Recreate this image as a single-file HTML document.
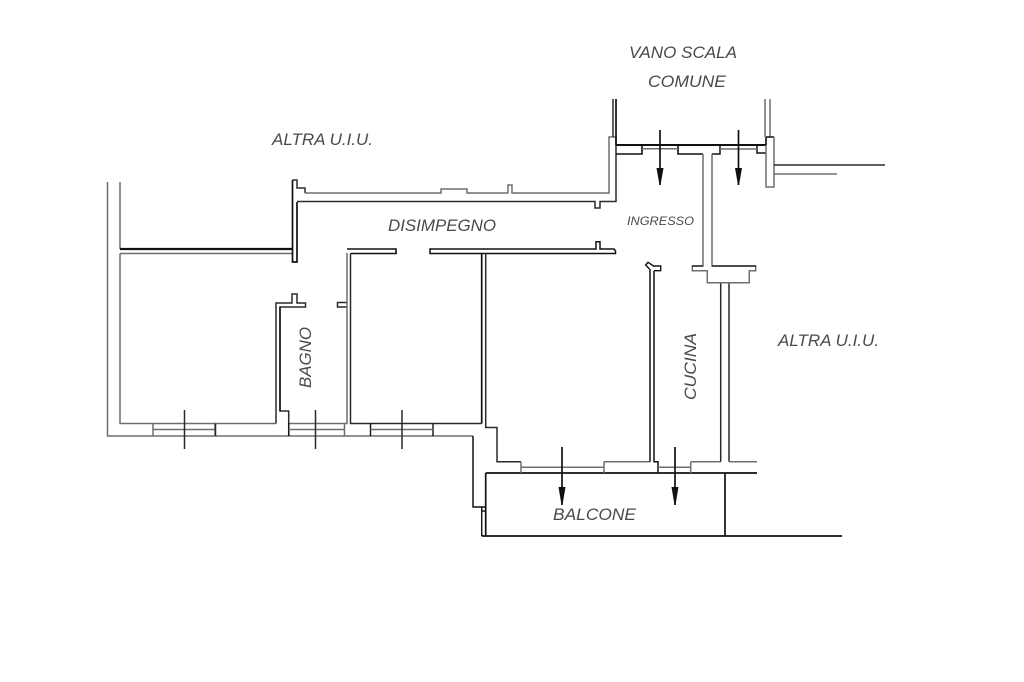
<!DOCTYPE html>
<html><head><meta charset="utf-8"><style>
html,body{margin:0;padding:0;background:#fff}
svg{display:block}
text{font-family:"Liberation Sans",sans-serif;font-style:italic;fill:#4a4a4a;font-size:17px}
.k{fill:none;stroke:#111;stroke-width:1.7}
.d{fill:none;stroke:#2a2a2a;stroke-width:1.5}
.g{fill:none;stroke:#6e6e6e;stroke-width:1.5}
</style></head><body>
<svg width="1024" height="682" viewBox="0 0 1024 682" xmlns="http://www.w3.org/2000/svg">
<rect width="1024" height="682" fill="#fff"/>

<!-- left block -->
<path class="g" d="M107.500 182V436H473"/>
<path class="g" d="M120 182V249"/>
<path class="k" d="M120 249H292.500" style="stroke-width:2.200"/>
<path class="g" d="M120 253.500H292.500"/>
<path class="g" d="M120 253.500V423.500H276"/>
<path class="k" d="M292.500 180V262H297V202"/>
<path class="d" d="M292.500 180H297V188H305V193"/>
<path class="g" d="M305 193H441V189H467V193H508V185H512V193H609V137H616"/>
<path class="d" d="M297 201.500H595V208H600V201.500H616V137"/>

<!-- bagno -->
<path class="d" d="M276 423.500V303H292V294H297V303H305.500V307H280V411H288.700V436"/>
<path class="k" d="M280 307V411" style="stroke-width:1.500"/>
<path class="d" d="M347 307H337.500V302.500H347"/>
<path class="g" d="M347 253V423.500H288.700"/>
<path class="d" d="M350.500 253.500V423.500H481.700"/>
<path class="k" d="M347 249H396V253.500H350.500" style="stroke-width:1.600"/>
<path class="k" d="M430 249H596V241.700H600V249H614L615.500 251V253.500H430Z" style="stroke-width:1.500"/>
<path class="k" d="M481.700 253.500V423.500"/>
<path class="d" d="M485.700 253.500V427.500H497V461.700H521"/>

<!-- left windows -->
<path class="g" d="M153 423.500V436M215 423.500V436M153 429.500H215"/>
<path class="d" d="M215.500 423.500V436"/>
<path class="k" d="M288.700 423V436" style="stroke-width:1.400"/>
<path class="g" d="M288.700 429.500H344.500M344.500 423.500V436"/>
<path class="k" d="M370.500 423.500V436M433 423.500V436" style="stroke-width:1.400"/>
<path class="g" d="M370.500 429.500H433"/>
<path class="d" d="M184.500 410V449M315.500 410V449M402 410V449"/>

<!-- lower-middle wall -->
<path class="k" d="M473 436V507H485.500" style="stroke-width:1.500"/>
<path class="k" d="M481.700 507V536M481.700 511H485.700" style="stroke-width:1.400"/>
<path class="k" d="M485.700 473V536"/>
<path class="k" d="M481.700 536H842"/>
<path class="k" d="M485.700 473H757"/>
<path class="k" d="M725 473V536"/>
<path class="g" d="M521 461.700V473M521 467.300H604M604 461.700V473M604 461.700H650"/>
<path class="k" d="M650 269V461.700" style="stroke-width:1.500"/>
<path class="k" d="M654 271V461.700H658V473" style="stroke-width:1.500"/>
<path class="g" d="M658 467.300H690.700M690.700 461.700V473M690.700 461.700H720.700"/>
<path class="d" d="M720.700 283V461.700"/>
<path class="d" d="M729 283V461.700"/>
<path class="g" d="M729 461.700H757"/>
<path class="k" d="M649.500 269L645.700 265L648 262.300L653.500 266H660.700V270.700H654" style="stroke-width:1.400"/>

<!-- stair section -->
<path class="d" d="M613 99V137"/>
<path class="k" d="M616 99V145"/>
<path class="k" d="M616 145H766" style="stroke-width:1.900"/>
<path class="k" d="M616 154H642V146M678 146V154H703" style="stroke-width:1.600"/>
<path class="g" d="M642 148.800H678"/>
<path class="g" d="M765 99V137M770 99V137"/>
<path class="k" d="M712 154H720V146M757 146V153H766" style="stroke-width:1.500"/>
<path class="g" d="M720 149H757"/>
<path class="k" d="M766 137H774M766 137V145" style="stroke-width:1.600"/>
<path class="g" d="M766 145V187H774V137"/>
<path class="d" d="M774 165H885"/>
<path class="g" d="M774 174H837"/>
<path class="g" d="M703 154V266H692.300V270.700H707.300V282.700H749.300V270.700H755.700V266H712V154"/>
<path class="d" d="M692.300 266H703M712 266H755.700"/>

<!-- arrows -->
<g fill="#111" stroke="#111" stroke-width="1.700">
<path d="M660 130V185M738.500 130V185M562 447V505M675 447V505" fill="none"/>
<path stroke="none" d="M656.500 168H663.500L660.500 185H659.500ZM735 168H742L739 185H738ZM558.500 487H565.500L562.500 505H561.500ZM671.500 487H678.500L675.500 505H674.500Z"/>
</g>

<!-- text -->
<text x="629" y="58" textLength="108" lengthAdjust="spacingAndGlyphs">VANO SCALA</text>
<text x="648" y="87" textLength="78" lengthAdjust="spacingAndGlyphs">COMUNE</text>
<text x="272" y="145" textLength="101" lengthAdjust="spacingAndGlyphs">ALTRA U.I.U.</text>
<text x="388" y="231" textLength="108" lengthAdjust="spacingAndGlyphs">DISIMPEGNO</text>
<text x="627" y="225" textLength="67" lengthAdjust="spacingAndGlyphs" style="font-size:12px">INGRESSO</text>
<text x="778" y="346" textLength="101" lengthAdjust="spacingAndGlyphs">ALTRA U.I.U.</text>
<text x="553" y="520" textLength="83" lengthAdjust="spacingAndGlyphs">BALCONE</text>
<text transform="translate(311 388) rotate(-90)" x="0" y="0" textLength="61" lengthAdjust="spacingAndGlyphs">BAGNO</text>
<text transform="translate(696 400) rotate(-90)" x="0" y="0" textLength="67" lengthAdjust="spacingAndGlyphs">CUCINA</text>
</svg>
</body></html>
